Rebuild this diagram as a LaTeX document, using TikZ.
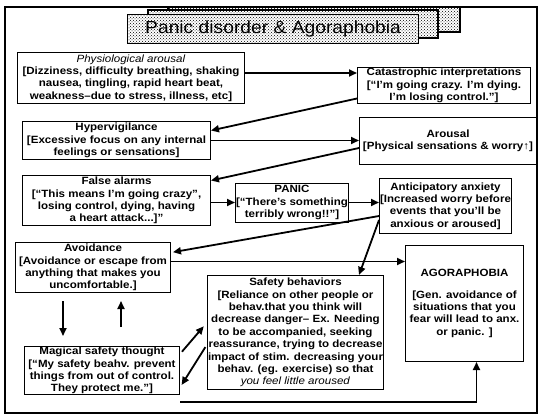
\documentclass[tikz,border=0pt]{standalone}
\usepackage{fontspec}
\setmainfont{Liberation Sans}[FakeStretch=1.1]
\usetikzlibrary{positioning,arrows.meta,patterns}

\begin{document}
\begin{tikzpicture}[
  x=1pt, y=-1pt,
  box/.style={draw, line width=1pt, align=center, inner sep=0.5pt, anchor=north west, font=\fontsize{10.5}{12.4}\selectfont\bfseries},
  pagebox/.style={draw, line width=1.2pt, fill=white, postaction={pattern=crosshatch dots, pattern color=black}},
  arr/.style={-{Triangle[length=8pt,width=7pt]}, line width=1.8pt}
]
\useasboundingbox (0,0) rectangle (539,418);
\draw[line width=1.3pt] (5,7) rectangle (537,413);

% title, stacked sheets
\draw[pagebox] (168,7) rectangle (460,32);
\draw[pagebox] (148,10) rectangle (438,38);
\node[pagebox, minimum width=291pt, minimum height=29pt, anchor=north west, font=\fontsize{17.5}{20}\selectfont] (title) at (127,14) {Panic disorder \& Agoraphobia};

% boxes
\node[box, minimum width=227pt, minimum height=51pt] (phys) at (17,52)
  {\textit{\mdseries Physiological arousal}\\{}[Dizziness, difficulty breathing, shaking\\nausea, tingling, rapid heart beat,\\weakness–due to stress, illness, etc]};
\node[box, minimum width=173pt, minimum height=36pt] (cat) at (357,67)
  {Catastrophic interpretations\\{}[“I'm going crazy. I'm dying.\\I'm losing control.”]};
\node[box, minimum width=188pt, minimum height=38pt, below=17pt of phys.south west, anchor=north west, xshift=5pt] (hyp)
  {Hypervigilance\\{}[Excessive focus on any internal\\feelings or sensations]};
\node[box, minimum width=177pt, minimum height=47pt] (arousal) at (359,117)
  {Arousal\\{}[Physical sensations \& worry↑]};
\node[box, minimum width=188pt, minimum height=50pt, below=15pt of hyp.south west, anchor=north west] (false)
  {False alarms\\{}[“This means I'm going crazy”,\\losing control, dying, having\\a heart attack...]”};
\node[box, minimum width=113pt, minimum height=39pt, right=24pt of false, yshift=-2pt] (panic)
  {PANIC\\{}[“There's something\\terribly wrong!!”]};
\node[box, minimum width=131pt, minimum height=55pt] (anticip) at (379,178)
  {Anticipatory anxiety\\{}[Increased worry before\\events that you'll be\\anxious or aroused]};
\node[box, minimum width=155pt, minimum height=50pt] (avoid) at (15,242)
  {Avoidance\\{}[Avoidance or escape from\\anything that makes you\\uncomfortable.]};
\node[box, minimum width=118pt, minimum height=116pt] (agora) at (405,245)
  {AGORAPHOBIA\\[9pt]{}[Gen. avoidance of\\situations that you\\fear will lead to anx.\\or panic. ]};
\node[box, minimum width=168pt, minimum height=114pt] (safety) at (207,275)
  {Safety behaviors\\{}[Reliance on other people or\\behav.that you think will\\decrease danger– Ex. Needing\\to be accompanied, seeking\\reassurance, trying to decrease\\impact of stim. decreasing your\\behav. (eg. exercise) so that\\\textit{\mdseries you feel little aroused}};
\node[box, minimum width=155pt, minimum height=48pt] (magical) at (24,346)
  {Magical safety thought\\{}[“My safety beahv. prevent\\things from out of control.\\They protect me.”]};

% connectors
\draw[arr] ([yshift=5pt]phys.east) -- ([yshift=5pt]phys.east -| cat.west);
\draw[arr] ([yshift=-13pt]cat.west) -- ([yshift=10pt]hyp.east);
\draw[arr] (hyp.east) -- (hyp.east -| arousal.west);
\draw[arr] ([yshift=-7pt]arousal.west) -- ([yshift=20pt]false.east);
\draw[arr] (panic.west -| false.east) -- (panic.west);
\draw[arr] (panic.east) -- (panic.east -| anticip.west);
\draw[arr, shorten >=2pt] ([yshift=-10pt]anticip.west) -- ([yshift=15pt]avoid.east);
\draw[arr] ([yshift=6pt]avoid.east) -- ([yshift=6pt]avoid.east -| agora.west);
\draw[arr] ([yshift=-14pt]anticip.west) -- ([xshift=-25pt]safety.north east);
\draw[arr, shorten <=8pt, shorten >=10pt] ([xshift=-30pt]avoid.south) -- ([xshift=-30pt]avoid.south |- magical.north);
\draw[arr, shorten <=19pt, shorten >=8pt] ([xshift=28pt]avoid.south |- magical.north) -- ([xshift=28pt]avoid.south);
\draw[arr, shorten <=3pt, shorten >=5pt] ([yshift=-8pt]magical.north east) -- ([yshift=10pt]safety.west);
\draw[arr, shorten <=3pt, shorten >=3pt] ([yshift=-12pt]safety.west) -- ([yshift=-17pt]magical.east);
\draw[arr] ([yshift=-7pt]magical.south east) -| ([xshift=12pt]agora.south);
\end{tikzpicture}
\end{document}
